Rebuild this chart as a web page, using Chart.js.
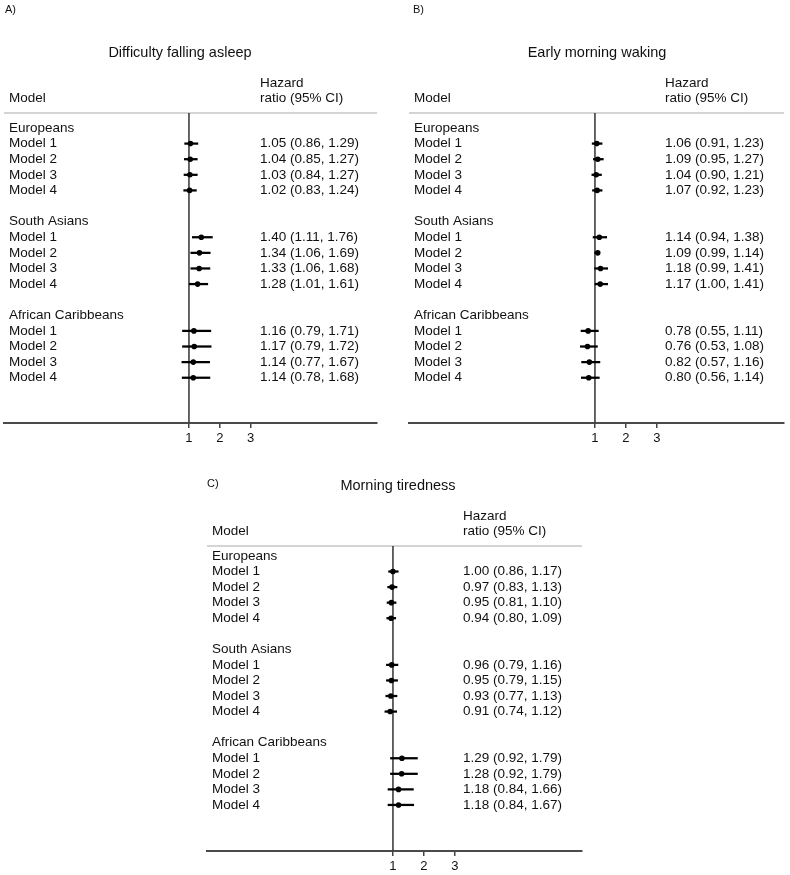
<!DOCTYPE html>
<html lang="en">
<head>
<meta charset="UTF-8">
<title>Sleep problems - hazard ratios by ethnic group</title>
<script src="https://cdn.jsdelivr.net/npm/chart.js"></script>
<style>
  body { margin: 0; background: #fff; }
  canvas { position: absolute; }
</style>
</head>
<body>
<canvas id="chartA" width="395" height="450" style="left:0;top:0"></canvas>
<canvas id="chartB" width="395" height="450" style="left:395px;top:0"></canvas>
<canvas id="chartC" width="400" height="425" style="left:195px;top:450px"></canvas>

<script>
  // categories
  const groups = ['Europeans', 'South Asians', 'African Caribbeans'];
  const models = ['Model 1', 'Model 2', 'Model 3', 'Model 4'];
  const tickValues = [1, 2, 3];

  // A) Difficulty falling asleep
  const asleepHR = [1.05, 1.04, 1.03, 1.02, 1.40, 1.34, 1.33, 1.28, 1.16, 1.17, 1.14, 1.14];
  const asleepLo = [0.86, 0.85, 0.84, 0.83, 1.11, 1.06, 1.06, 1.01, 0.79, 0.79, 0.77, 0.78];
  const asleepHi = [1.29, 1.27, 1.27, 1.24, 1.76, 1.69, 1.68, 1.61, 1.71, 1.72, 1.67, 1.68];

  // B) Early morning waking
  const wakingHR = [1.06, 1.09, 1.04, 1.07, 1.14, 1.09, 1.18, 1.17, 0.78, 0.76, 0.82, 0.80];
  const wakingLo = [0.91, 0.95, 0.90, 0.92, 0.94, 0.99, 0.99, 1.00, 0.55, 0.53, 0.57, 0.56];
  const wakingHi = [1.23, 1.27, 1.21, 1.23, 1.38, 1.14, 1.41, 1.41, 1.11, 1.08, 1.16, 1.14];

  // C) Morning tiredness
  const tiredHR = [1.00, 0.97, 0.95, 0.94, 0.96, 0.95, 0.93, 0.91, 1.29, 1.28, 1.18, 1.18];
  const tiredLo = [0.86, 0.83, 0.81, 0.80, 0.79, 0.79, 0.77, 0.74, 0.92, 0.92, 0.84, 0.84];
  const tiredHi = [1.17, 1.13, 1.10, 1.09, 1.16, 1.15, 1.13, 1.12, 1.79, 1.79, 1.66, 1.67];

  const FONT = '"Liberation Sans", Arial, sans-serif';

  // row 0 = group header, rows 1..4 = models, one blank row between groups
  function rowOf(i) {
    return Math.floor(i / models.length) * 6 + 1 + (i % models.length);
  }

  function fmt(v) { return v.toFixed(2); }

  const forestPlugin = {
    id: 'forest',
    beforeDatasetsDraw(chart) {
      const { ctx, chartArea: a, scales: { x } } = chart;
      ctx.save();
      // separator under the header
      ctx.strokeStyle = '#d4d4d4';
      ctx.lineWidth = 2;
      ctx.beginPath();
      ctx.moveTo(a.left, a.top);
      ctx.lineTo(a.right, a.top);
      ctx.stroke();
      // line of no effect
      const x1 = x.getPixelForValue(1);
      ctx.strokeStyle = '#333';
      ctx.lineWidth = 1.5;
      ctx.beginPath();
      ctx.moveTo(x1, a.top);
      ctx.lineTo(x1, a.bottom);
      ctx.stroke();
      ctx.restore();
    },
    afterDraw(chart) {
      const { ctx, chartArea: a, scales: { y } } = chart;
      const o = chart.options.plugins.forest;
      const textX = a.left + 256;
      ctx.save();
      ctx.fillStyle = '#111';
      ctx.textBaseline = 'middle';
      ctx.textAlign = 'left';

      ctx.font = '11px ' + FONT;
      ctx.fillText(o.letter, o.letterX, o.letterY);

      ctx.font = '14.5px ' + FONT;
      ctx.textAlign = 'center';
      ctx.fillText(o.title, o.titleX, a.top - 60);

      ctx.font = '13.5px ' + FONT;
      ctx.textAlign = 'left';
      ctx.fillText('Model', a.left + 5, a.top - 15);
      ctx.fillText('Hazard', textX, a.top - 30);
      ctx.fillText('ratio (95% CI)', textX, a.top - 15);

      groups.forEach((g, gi) => {
        ctx.fillText(g, a.left + 5, y.getPixelForValue(gi * 6));
      });
      o.hr.forEach((v, i) => {
        const py = y.getPixelForValue(rowOf(i));
        ctx.fillText(models[i % models.length], a.left + 5, py);
        ctx.fillText(fmt(v) + ' (' + fmt(o.lo[i]) + ', ' + fmt(o.hi[i]) + ')', textX, py);
      });
      ctx.restore();
    }
  };

  function makeForest(id, cfg) {
    const ciData = cfg.hr.map((v, i) => ({ x: [cfg.lo[i], cfg.hi[i]], y: rowOf(i) }));
    const pointData = cfg.hr.map((v, i) => ({ x: v, y: rowOf(i) }));
    return new Chart(document.getElementById(id), {
      type: 'bar',
      data: {
        datasets: [
          {
            type: 'bar',
            indexAxis: 'y',
            data: ciData,
            backgroundColor: '#000',
            borderWidth: 0,
            barThickness: 1.6
          },
          {
            type: 'scatter',
            data: pointData,
            pointRadius: 2.8,
            pointBackgroundColor: '#000',
            pointBorderWidth: 0,
            showLine: false
          }
        ]
      },
      options: {
        responsive: false,
        animation: false,
        layout: { padding: cfg.padding },
        plugins: {
          legend: { display: false },
          tooltip: { enabled: false },
          forest: cfg
        },
        scales: {
          x: {
            type: 'linear',
            min: -5,
            max: 7.1,
            offset: false,
            beginAtZero: false,
            afterBuildTicks: s => { s.ticks = tickValues.map(v => ({ value: v })); },
            afterFit: s => { s.height = 22; },
            grid: { offset: false, drawOnChartArea: false, drawTicks: true, tickLength: 5, tickColor: '#444', lineWidth: 1.5 },
            border: { color: '#4a4a4a', width: 2 },
            ticks: { font: { family: FONT, size: 13 }, color: '#111', padding: 3, maxRotation: 0, autoSkip: false }
          },
          y: {
            type: 'linear',
            min: cfg.yMin,
            max: cfg.yMax,
            offset: false,
            beginAtZero: false,
            reverse: true,
            display: false,
            grid: { offset: false }
          }
        }
      },
      plugins: [forestPlugin]
    });
  }

  makeForest('chartA', {
    letter: 'A)', letterX: 5, letterY: 10,
    title: 'Difficulty falling asleep', titleX: 180,
    hr: asleepHR, lo: asleepLo, hi: asleepHi,
    yMin: -0.96, yMax: 18.9,
    padding: { left: 2, right: 18, top: 113, bottom: 5 }
  });

  makeForest('chartB', {
    letter: 'B)', letterX: 18, letterY: 10,
    title: 'Early morning waking', titleX: 202,
    hr: wakingHR, lo: wakingLo, hi: wakingHi,
    yMin: -0.96, yMax: 18.9,
    padding: { left: 14, right: 6, top: 113, bottom: 5 }
  });

  makeForest('chartC', {
    letter: 'C)', letterX: 12, letterY: 34,
    title: 'Morning tiredness', titleX: 203,
    hr: tiredHR, lo: tiredLo, hi: tiredHi,
    yMin: -0.64, yMax: 18.96,
    padding: { left: 12, right: 13, top: 96, bottom: 2 }
  });
</script>
</body>
</html>
